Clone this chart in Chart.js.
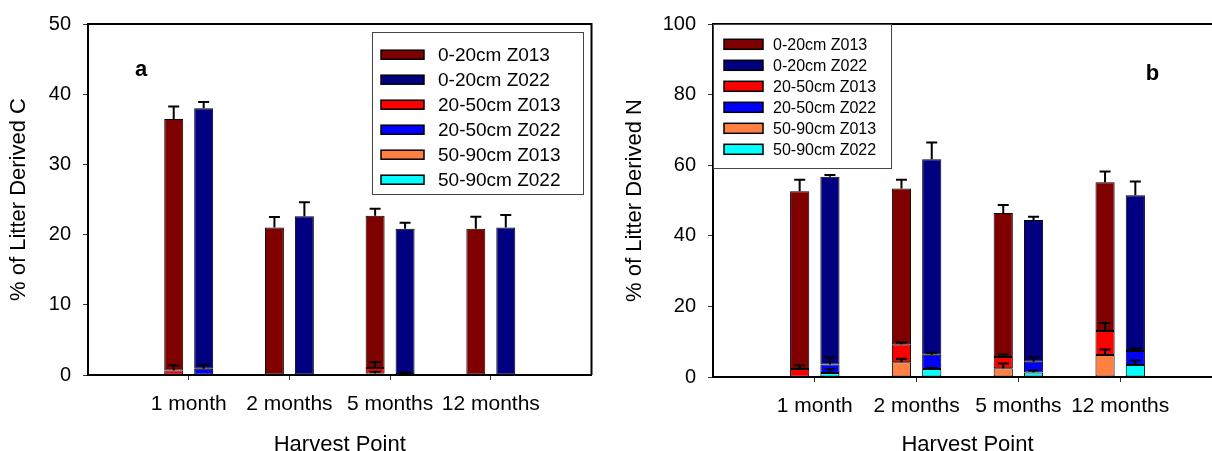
<!DOCTYPE html>
<html>
<head>
<meta charset="utf-8">
<title>Litter derived C and N</title>
<script src="https://cdn.jsdelivr.net/npm/chart.js@4.4.1/dist/chart.umd.min.js"></script>
<style>
  html, body { margin: 0; padding: 0; background: #fff; overflow: hidden; width: 1212px; height: 451px; }
  canvas { position: absolute; top: 0; }
  #carbonChart { left: 0; }
  #nitrogenChart { left: 600px; }
</style>
</head>
<body>
<canvas id="carbonChart" width="600" height="470"></canvas>
<canvas id="nitrogenChart" width="640" height="470"></canvas>
<script>
// Harvest points (x categories) and their positions on the x axis
const harvestPoints = ['1 month', '2 months', '5 months', '12 months'];
const harvestPositions = [1, 2, 3, 4];

// Series, in legend order
const seriesLabels = ['0-20cm Z013', '0-20cm Z022', '20-50cm Z013', '20-50cm Z022', '50-90cm Z013', '50-90cm Z022'];
const seriesColors = ['#800000', '#000080', '#ff0000', '#0000ff', '#ff8040', '#00ffff'];
const seriesStacks = ['Z013', 'Z022', 'Z013', 'Z022', 'Z013', 'Z022'];
// bottom-to-top stacking: 50-90cm, 20-50cm, 0-20cm
const stackingOrder = [4, 2, 0, 5, 3, 1];

// Panel a: % of litter derived C, per depth layer, with standard errors
const c_0_20_Z013 = [35.8, 21.0, 21.7, 20.85];
const c_0_20_Z013_err = [1.8, 1.5, 1.0, 1.7];
const c_0_20_Z022 = [37.1, 22.6, 20.7, 21.0];
const c_0_20_Z022_err = [0.9, 2.0, 0.85, 1.8];
const c_20_50_Z013 = [0.65, 0, 0.8, 0];
const c_20_50_Z013_err = [0.75, 0, 0.85, 0];
const c_20_50_Z022 = [0.9, 0, 0.15, 0];
const c_20_50_Z022_err = [0.5, 0, 0.2, 0];
const c_50_90_Z013 = [0, 0, 0.2, 0];
const c_50_90_Z013_err = [0, 0, 0.25, 0];
const c_50_90_Z022 = [0, 0, 0, 0];
const c_50_90_Z022_err = [0, 0, 0, 0];

// Panel b: % of litter derived N, per depth layer, with standard errors
const n_0_20_Z013 = [50.35, 44.1, 40.8, 42.2];
const n_0_20_Z013_err = [3.3, 2.5, 2.3, 3.0];
const n_0_20_Z022 = [53.15, 55.4, 40.2, 44.1];
const n_0_20_Z022_err = [0.5, 4.7, 0.9, 3.9];
const n_20_50_Z013 = [2.25, 5.1, 3.2, 6.8];
const n_20_50_Z013_err = [1.05, 0.5, 0.75, 2.3];
const n_20_50_Z022 = [2.45, 4.05, 3.0, 4.0];
const n_20_50_Z022_err = [2.0, 0.6, 1.2, 0.65];
const n_50_90_Z013 = [0, 4.2, 2.45, 6.2];
const n_50_90_Z013_err = [0, 1.0, 1.4, 1.6];
const n_50_90_Z022 = [1.1, 2.25, 1.3, 3.4];
const n_50_90_Z022_err = [1.1, 0.3, 0.55, 1.3];

// Y axis ticks
const carbonTicks = [0, 10, 20, 30, 40, 50];
const nitrogenTicks = [0, 20, 40, 60, 80, 100];

const fontFamily = "'Liberation Sans', Arial, Helvetica, sans-serif";

// Upward error bars on top of every stacked segment
const errorBarPlugin = {
  id: 'errorBars',
  afterDatasetsDraw(chart) {
    const ctx = chart.ctx;
    const yScale = chart.scales.y;
    ctx.save();
    ctx.strokeStyle = '#000';
    ctx.lineWidth = 2;
    chart.data.datasets.forEach((ds, i) => {
      const meta = chart.getDatasetMeta(i);
      meta.data.forEach((bar, j) => {
        const err = ds.errors[j];
        if (!err) return;
        const len = yScale.getPixelForValue(0) - yScale.getPixelForValue(err);
        const top = bar.y - len;
        ctx.beginPath();
        ctx.moveTo(bar.x, bar.y);
        ctx.lineTo(bar.x, top);
        ctx.moveTo(bar.x - 5.5, top);
        ctx.lineTo(bar.x + 5.5, top);
        ctx.stroke();
      });
    });
    ctx.restore();
  }
};

// Top (and optional right) frame line of the plot area
const framePlugin = {
  id: 'plotFrame',
  afterDraw(chart, args, opts) {
    const { ctx, chartArea: a } = chart;
    ctx.save();
    ctx.strokeStyle = '#000';
    ctx.lineWidth = 2;
    ctx.beginPath();
    ctx.moveTo(a.left, a.top);
    ctx.lineTo(a.right, a.top);
    if (opts.right) ctx.lineTo(a.right, a.bottom);
    ctx.stroke();
    ctx.restore();
  }
};

// Boxed legend drawn inside the plot area
const boxLegendPlugin = {
  id: 'boxLegend',
  afterDraw(chart, args, o) {
    const { ctx, chartArea: a } = chart;
    const x0 = o.anchor === 'right' ? a.right - o.inset - o.width : a.left + o.inset;
    const y0 = a.top + o.top;
    ctx.save();
    ctx.fillStyle = '#fff';
    ctx.fillRect(x0 + 1, y0 + 1, o.width - 1, o.height - 1);
    ctx.strokeStyle = '#444';
    ctx.lineWidth = 1;
    ctx.strokeRect(Math.round(x0) + 0.5, Math.round(y0) + 0.5, o.width, o.height);
    ctx.font = o.fontSize + 'px ' + fontFamily;
    ctx.textBaseline = 'middle';
    ctx.textAlign = 'left';
    seriesLabels.forEach((label, i) => {
      const cy = y0 + o.firstRow + i * o.rowGap;
      const sx = x0 + o.swatchX, sy = cy - o.swatchH / 2;
      ctx.fillStyle = seriesColors[i];
      ctx.fillRect(sx, sy, o.swatchW, o.swatchH);
      ctx.strokeStyle = '#000';
      ctx.lineWidth = 1.5;
      ctx.strokeRect(sx, sy, o.swatchW, o.swatchH);
      ctx.fillStyle = '#000';
      ctx.fillText(label, x0 + o.textX, cy + 1);
    });
    ctx.restore();
  }
};

// Panel letter
const panelLetterPlugin = {
  id: 'panelLetter',
  afterDraw(chart, args, o) {
    const { ctx, chartArea: a } = chart;
    ctx.save();
    ctx.font = 'bold 22px ' + fontFamily;
    ctx.fillStyle = '#000';
    ctx.textAlign = 'center';
    ctx.textBaseline = 'alphabetic';
    ctx.fillText(o.text, a.left + o.dx, a.top + o.dy);
    ctx.restore();
  }
};

function buildDatasets(values, errors) {
  return stackingOrder.map((s) => ({
    label: seriesLabels[s],
    data: values[s],
    errors: errors[s],
    stack: seriesStacks[s],
    backgroundColor: seriesColors[s],
    borderColor: '#000',
    borderWidth: 1,
    borderSkipped: false,
    categoryPercentage: 0.595,
    barPercentage: 0.633
  }));
}

function makeChart(canvasId, p) {
  return new Chart(document.getElementById(canvasId), {
    type: 'bar',
    data: {
      labels: harvestPositions,
      datasets: buildDatasets(p.values, p.errors)
    },
    plugins: [errorBarPlugin, framePlugin, boxLegendPlugin, panelLetterPlugin],
    options: {
      responsive: false,
      animation: false,
      devicePixelRatio: 1,
      layout: { padding: { left: 0, top: p.top, right: p.right, bottom: 0 } },
      plugins: {
        legend: { display: false },
        tooltip: { enabled: false },
        plotFrame: { right: p.frameRight },
        boxLegend: p.legend,
        panelLetter: p.letter
      },
      scales: {
        x: {
          type: 'linear',
          min: 0,
          max: 5,
          offset: false,
          afterBuildTicks: (axis) => { axis.ticks = harvestPositions.map((v) => ({ value: v })); },
          afterFit: (axis) => { axis.height = p.xHeight; },
          ticks: {
            callback: (v, i) => harvestPoints[i],
            color: '#000',
            font: { family: fontFamily, size: 21 },
            padding: 12,
            maxRotation: 0,
            autoSkip: false
          },
          grid: {
            display: true,
            offset: false,
            drawOnChartArea: false,
            drawTicks: true,
            tickLength: 5,
            tickColor: '#333',
            lineWidth: 1
          },
          border: { display: true, color: '#000', width: 2 },
          title: {
            display: true,
            text: 'Harvest Point',
            color: '#000',
            font: { family: fontFamily, size: 22 },
            padding: { top: 0, bottom: 11.8 }
          }
        },
        y: {
          stacked: true,
          min: p.yTicks[0],
          max: p.yTicks[p.yTicks.length - 1],
          afterBuildTicks: (axis) => { axis.ticks = p.yTicks.map((v) => ({ value: v })); },
          afterFit: (axis) => { axis.width = p.yWidth; },
          ticks: {
            color: '#000',
            font: { family: fontFamily, size: 20 },
            padding: 12
          },
          grid: {
            display: true,
            drawOnChartArea: false,
            drawTicks: true,
            tickLength: 5,
            tickColor: '#333',
            lineWidth: 1
          },
          border: { display: true, color: '#000', width: 2 },
          title: {
            display: true,
            text: p.yTitle,
            color: '#000',
            font: { family: fontFamily, size: 22 },
            padding: { top: p.yTitlePad, bottom: 0 }
          }
        }
      }
    }
  });
}

makeChart('carbonChart', {
  values: [c_0_20_Z013, c_0_20_Z022, c_20_50_Z013, c_20_50_Z022, c_50_90_Z013, c_50_90_Z022],
  errors: [c_0_20_Z013_err, c_0_20_Z022_err, c_20_50_Z013_err, c_20_50_Z022_err, c_50_90_Z013_err, c_50_90_Z022_err],
  yTicks: carbonTicks,
  yTitle: '% of Litter Derived C',
  top: 21,
  right: 8.5,
  yWidth: 88,
  xHeight: 95,
  yTitlePad: 6,
  frameRight: true,
  legend: { anchor: 'right', inset: 8.5, top: 8, width: 211, height: 162, firstRow: 22.7, rowGap: 25,
            swatchX: 9, swatchW: 43, swatchH: 9, textX: 66, fontSize: 19 },
  letter: { text: 'a', dx: 53, dy: 52 }
});

makeChart('nitrogenChart', {
  values: [n_0_20_Z013, n_0_20_Z022, n_20_50_Z013, n_20_50_Z022, n_50_90_Z013, n_50_90_Z022],
  errors: [n_0_20_Z013_err, n_0_20_Z022_err, n_20_50_Z013_err, n_20_50_Z022_err, n_50_90_Z013_err, n_50_90_Z022_err],
  yTicks: nitrogenTicks,
  yTitle: '% of Litter Derived N',
  top: 22,
  right: 18,
  yWidth: 113,
  xHeight: 93,
  yTitlePad: 21.8,
  frameRight: false,
  legend: { anchor: 'left', inset: 0, top: 0, width: 178, height: 144, firstRow: 20.3, rowGap: 21,
            swatchX: 11, swatchW: 39, swatchH: 10, textX: 60, fontSize: 16 },
  letter: { text: 'b', dx: 439.5, dy: 55.7 }
});
</script>
</body>
</html>
